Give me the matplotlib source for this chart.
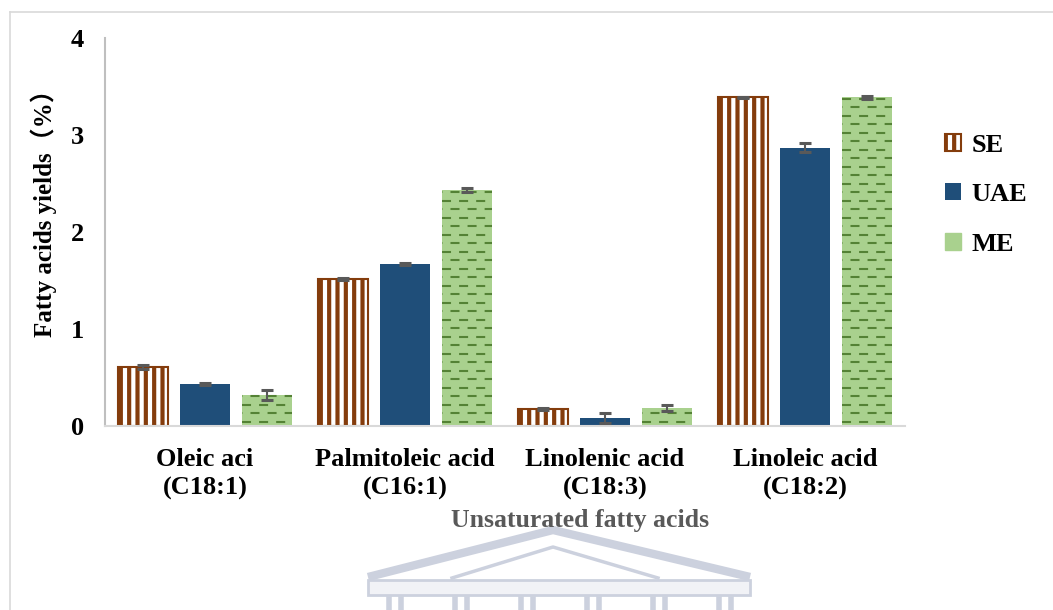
import matplotlib

matplotlib.use("Agg")

import matplotlib.pyplot as plt
import numpy as np
from matplotlib.lines import Line2D
from matplotlib.patches import Patch, Polygon

plt.rcParams["font.family"] = ["Liberation Serif", "Noto Sans CJK SC"]
plt.rcParams["font.weight"] = "bold"
plt.rcParams["axes.labelweight"] = "bold"
plt.rcParams["hatch.linewidth"] = 3.0
plt.rcParams["lines.scale_dashes"] = False

# fatty acid yields (%) by extraction method
acids = ["Oleic aci\n(C18:1)", "Palmitoleic acid\n(C16:1)",
         "Linolenic acid\n(C18:3)", "Linoleic acid\n(C18:2)"]
methods = ["SE", "UAE", "ME"]
se_yield = [0.61, 1.52, 0.175, 3.39]
uae_yield = [0.43, 1.67, 0.08, 2.87]
me_yield = [0.32, 2.43, 0.185, 3.39]
se_err = [0.02, 0.01, 0.015, 0.005]
uae_err = [0.01, 0.01, 0.05, 0.05]
me_err = [0.05, 0.02, 0.035, 0.015]
y_ticks = [0, 1, 2, 3, 4]

BROWN = "#843c0c"
NAVY = "#1f4e79"
LIGHT_GREEN = "#a9d18e"
DARK_GREEN = "#548235"
ERR_GRAY = "#595959"

fig = plt.figure(figsize=(10.53, 6.10), dpi=100)
ax = fig.add_axes([105 / 1053, 1 - 426 / 610, 800 / 1053, 388 / 610])

x = np.arange(len(acids))
width = 0.25
offset = 0.31

se_bars = ax.bar(x - offset, se_yield, width, facecolor="white",
                 edgecolor=BROWN, hatch="||", linewidth=1.5, zorder=2)
uae_bars = ax.bar(x, uae_yield, width, color=NAVY, zorder=2)
me_bars = ax.bar(x + offset, me_yield, width, color=LIGHT_GREEN, zorder=2)

# staggered dash pattern inside the ME bars
row_step = 0.0876
for bar in me_bars:
    x0, x1 = bar.get_x(), bar.get_x() + bar.get_width()
    levels = np.arange(row_step * 0.5, bar.get_height(), row_step)
    for i, yv in enumerate(levels):
        shift = 0 if i % 2 == 0 else 6.2
        ln = Line2D([x0, x1], [yv, yv], color=DARK_GREEN, lw=1.5,
                    linestyle=(shift, (6.5, 5.8)), zorder=3)
        ln.set_clip_path(bar)
        ax.add_line(ln)

for pos, vals, errs in [(x - offset, se_yield, se_err),
                        (x, uae_yield, uae_err),
                        (x + offset, me_yield, me_err)]:
    ax.errorbar(pos, vals, yerr=errs, fmt="none", ecolor=ERR_GRAY,
                elinewidth=1.5, capsize=4.3, capthick=2.2, zorder=4)

ax.set_xlim(-0.5, len(acids) - 0.5)
ax.set_ylim(0, 4)
ax.set_yticks(y_ticks)
ax.set_yticklabels([str(t) for t in y_ticks])
ax.set_xticks(x)
ax.set_xticklabels(acids, linespacing=1.3)
ax.tick_params(axis="both", length=0, labelsize=19)
ax.tick_params(axis="y", pad=15)
ax.tick_params(axis="x", pad=16)

for side in ["top", "right"]:
    ax.spines[side].set_visible(False)
ax.spines["left"].set_color("#bfbfbf")
ax.spines["left"].set_linewidth(1.5)
ax.spines["bottom"].set_color("#d9d9d9")
ax.spines["bottom"].set_linewidth(1.5)

ax.set_ylabel("Fatty acids yields（%）", fontsize=18)
ax.yaxis.set_label_coords(-0.06, 0.563)
ax.set_xlabel("Unsaturated fatty acids", fontsize=18.5, color=ERR_GRAY)
ax.xaxis.set_label_coords(0.594, -0.213)

handles = [
    Patch(facecolor="white", edgecolor=BROWN, hatch="||", linewidth=1.5),
    Patch(facecolor=NAVY),
    Patch(facecolor=LIGHT_GREEN, edgecolor=LIGHT_GREEN, hatch="--"),
]
fig.legend(handles, methods, loc="upper left",
           bbox_to_anchor=(921 / 1053, 1 - 110 / 610), frameon=False,
           fontsize=19, handlelength=0.6, handleheight=0.6,
           handletextpad=0.4, labelspacing=1.0)

# outer frame of the chart area
fig.add_artist(Line2D([10 / 1053, 10 / 1053], [0, 1 - 12 / 610],
                      color="#d9d9d9", lw=1.2, transform=fig.transFigure))
fig.add_artist(Line2D([10 / 1053, 1], [1 - 12 / 610, 1 - 12 / 610],
                      color="#d9d9d9", lw=1.2, transform=fig.transFigure))


# faint building emblem below the chart
def fx(px):
    return px / 1053


def fy(py):
    return 1 - py / 610


EMBLEM = "#ccd1de"
fig.add_artist(Line2D([fx(372), fx(553), fx(746)], [fy(576), fy(530), fy(576)],
                      color=EMBLEM, lw=6, solid_joinstyle="miter",
                      transform=fig.transFigure, zorder=0))
fig.add_artist(Line2D([fx(452), fx(553), fx(658)], [fy(578), fy(547), fy(578)],
                      color=EMBLEM, lw=2.5, transform=fig.transFigure, zorder=0))
fig.add_artist(Polygon([[fx(368), fy(580)], [fx(750), fy(580)],
                        [fx(750), fy(595)], [fx(368), fy(595)]],
                       closed=True, facecolor="#f1f2f6", edgecolor=EMBLEM,
                       lw=2, transform=fig.transFigure, zorder=0))
for cx in np.linspace(395, 725, 6):
    for dx in (-6, 6):
        fig.add_artist(Line2D([fx(cx + dx), fx(cx + dx)], [fy(599), 0],
                              color=EMBLEM, lw=4, transform=fig.transFigure,
                              zorder=0))

fig.savefig("out.png", dpi=100)
